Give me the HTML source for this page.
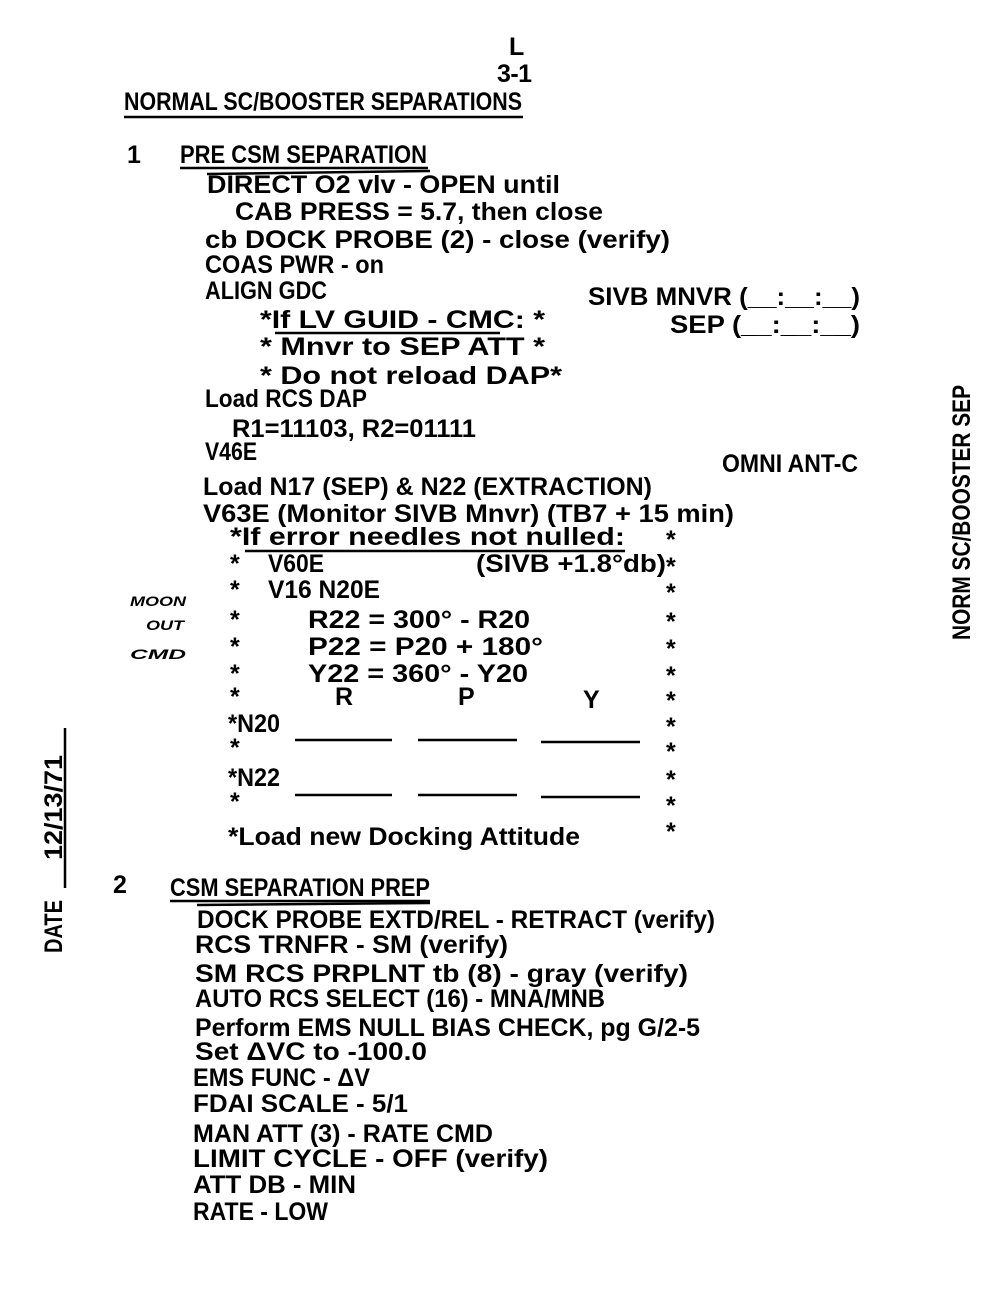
<!DOCTYPE html>
<html><head><meta charset="utf-8"><style>
html,body{margin:0;padding:0;background:#fff;width:1000px;height:1300px;overflow:hidden}
svg text{font-family:"Liberation Sans",sans-serif;font-weight:bold;fill:#000;font-size:25px}
</style></head><body>
<svg width="1000" height="1300" viewBox="0 0 1000 1300" xmlns="http://www.w3.org/2000/svg">
<g lengthAdjust="spacingAndGlyphs">
<text x="509" y="55" textLength="13">L</text>
<text x="497" y="82" textLength="35">3-1</text>
<text x="124" y="110" textLength="398" lengthAdjust="spacingAndGlyphs">NORMAL SC/BOOSTER SEPARATIONS</text>
<text x="127" y="163">1</text>
<text x="180" y="163" textLength="247" lengthAdjust="spacingAndGlyphs">PRE CSM SEPARATION</text>
<text x="207" y="193" textLength="353" lengthAdjust="spacingAndGlyphs">DIRECT O2 vlv - OPEN until</text>
<text x="235" y="220" textLength="368" lengthAdjust="spacingAndGlyphs">CAB PRESS = 5.7, then close</text>
<text x="205" y="248" textLength="465" lengthAdjust="spacingAndGlyphs">cb DOCK PROBE (2) - close (verify)</text>
<text x="205" y="273" textLength="179" lengthAdjust="spacingAndGlyphs">COAS PWR - on</text>
<text x="205" y="299" textLength="122" lengthAdjust="spacingAndGlyphs">ALIGN GDC</text>
<text x="588" y="305" textLength="272" lengthAdjust="spacingAndGlyphs">SIVB MNVR (__:__:__)</text>
<text x="260" y="328" textLength="285" lengthAdjust="spacingAndGlyphs">*If LV GUID - CMC:   *</text>
<text x="670" y="333" textLength="190" lengthAdjust="spacingAndGlyphs">SEP (__:__:__)</text>
<text x="260" y="355" textLength="285" lengthAdjust="spacingAndGlyphs">*  Mnvr to SEP ATT   *</text>
<text x="260" y="384" textLength="302" lengthAdjust="spacingAndGlyphs">*  Do not reload DAP*</text>
<text x="205" y="407" textLength="162" lengthAdjust="spacingAndGlyphs">Load RCS DAP</text>
<text x="232" y="437" textLength="244" lengthAdjust="spacingAndGlyphs">R1=11103, R2=01111</text>
<text x="205" y="460" textLength="52" lengthAdjust="spacingAndGlyphs">V46E</text>
<text x="722" y="472" textLength="136" lengthAdjust="spacingAndGlyphs">OMNI ANT-C</text>
<text x="203" y="495" textLength="449" lengthAdjust="spacingAndGlyphs">Load N17 (SEP) &amp; N22 (EXTRACTION)</text>
<text x="203" y="522" textLength="531" lengthAdjust="spacingAndGlyphs">V63E (Monitor SIVB Mnvr) (TB7 + 15 min)</text>
<text x="230" y="545" textLength="395" lengthAdjust="spacingAndGlyphs">*If error needles not nulled:</text>
<text x="230" y="572" textLength="40">*</text>
<text x="268" y="572" textLength="56" lengthAdjust="spacingAndGlyphs">V60E</text>
<text x="476" y="572" textLength="190" lengthAdjust="spacingAndGlyphs">(SIVB +1.8°db)</text>
<text x="230" y="598">*</text>
<text x="268" y="598" textLength="112" lengthAdjust="spacingAndGlyphs">V16 N20E</text>
<text x="230" y="628">*</text>
<text x="308" y="628" textLength="222" lengthAdjust="spacingAndGlyphs">R22 = 300° - R20</text>
<text x="230" y="655">*</text>
<text x="308" y="655" textLength="235" lengthAdjust="spacingAndGlyphs">P22 = P20  + 180°</text>
<text x="230" y="682">*</text>
<text x="308" y="682" textLength="220" lengthAdjust="spacingAndGlyphs">Y22 = 360° - Y20</text>
<text x="230" y="705">*</text>
<text x="335" y="705">R</text><text x="458" y="705">P</text><text x="583" y="708">Y</text>
<text x="228" y="732" textLength="52" lengthAdjust="spacingAndGlyphs">*N20</text>
<text x="230" y="756">*</text>
<text x="228" y="786" textLength="52" lengthAdjust="spacingAndGlyphs">*N22</text>
<text x="230" y="810">*</text>
<text x="228" y="845" textLength="352" lengthAdjust="spacingAndGlyphs">*Load new Docking Attitude</text>
<g>
<text x="666" y="548">*</text><text x="666" y="575">*</text><text x="666" y="601">*</text><text x="666" y="630">*</text>
<text x="666" y="657">*</text><text x="666" y="684">*</text><text x="666" y="709">*</text><text x="666" y="735">*</text>
<text x="666" y="760">*</text><text x="666" y="788">*</text><text x="666" y="814">*</text><text x="666" y="840">*</text>
</g>
<text x="113" y="893">2</text>
<text x="170" y="896" textLength="260" lengthAdjust="spacingAndGlyphs">CSM SEPARATION PREP</text>
<text x="197" y="928" textLength="518" lengthAdjust="spacingAndGlyphs">DOCK PROBE EXTD/REL - RETRACT (verify)</text>
<text x="195" y="953" textLength="313" lengthAdjust="spacingAndGlyphs">RCS TRNFR - SM (verify)</text>
<text x="195" y="982" textLength="493" lengthAdjust="spacingAndGlyphs">SM RCS PRPLNT tb (8) - gray (verify)</text>
<text x="195" y="1007" textLength="410" lengthAdjust="spacingAndGlyphs">AUTO RCS SELECT (16) - MNA/MNB</text>
<text x="195" y="1036" textLength="505" lengthAdjust="spacingAndGlyphs">Perform EMS NULL BIAS CHECK, pg G/2-5</text>
<text x="195" y="1060" textLength="232" lengthAdjust="spacingAndGlyphs">Set ΔVC to -100.0</text>
<text x="193" y="1086" textLength="177" lengthAdjust="spacingAndGlyphs">EMS FUNC - ΔV</text>
<text x="193" y="1112" textLength="215" lengthAdjust="spacingAndGlyphs">FDAI SCALE - 5/1</text>
<text x="193" y="1142" textLength="300" lengthAdjust="spacingAndGlyphs">MAN ATT (3) - RATE CMD</text>
<text x="193" y="1167" textLength="355" lengthAdjust="spacingAndGlyphs">LIMIT CYCLE - OFF (verify)</text>
<text x="193" y="1193" textLength="163" lengthAdjust="spacingAndGlyphs">ATT DB - MIN</text>
<text x="193" y="1220" textLength="135" lengthAdjust="spacingAndGlyphs">RATE - LOW</text>
<text transform="translate(970,640) rotate(-90)" textLength="255" lengthAdjust="spacingAndGlyphs">NORM SC/BOOSTER SEP</text>
<text transform="translate(62,953) rotate(-90)" textLength="53" lengthAdjust="spacingAndGlyphs">DATE</text>
<text transform="translate(62,860) rotate(-90)" textLength="105" lengthAdjust="spacingAndGlyphs">12/13/71</text>
<text x="130" y="606" style="font-size:14px;font-style:italic" textLength="56" lengthAdjust="spacingAndGlyphs">MOON</text>
<text x="146" y="630" style="font-size:14px;font-style:italic" textLength="38" lengthAdjust="spacingAndGlyphs">OUT</text>
<text x="130" y="659" style="font-size:14px;font-style:italic" textLength="56" lengthAdjust="spacingAndGlyphs">CMD</text>
</g>
<g stroke="#000" stroke-width="2.5" fill="none">
<line x1="124" y1="117" x2="523" y2="117"/>
<line x1="180" y1="168" x2="428" y2="168"/>
<line x1="207" y1="174" x2="430" y2="171"/>
<line x1="275" y1="333" x2="500" y2="333"/>
<line x1="245" y1="551" x2="625" y2="551"/>
<line x1="295" y1="740" x2="392" y2="740"/><line x1="418" y1="740" x2="517" y2="740"/><line x1="541" y1="742" x2="640" y2="742"/>
<line x1="295" y1="795" x2="392" y2="795"/><line x1="418" y1="795" x2="517" y2="795"/><line x1="541" y1="797" x2="640" y2="797"/>
<line x1="170" y1="901" x2="430" y2="901"/>
<line x1="197" y1="905" x2="430" y2="903"/>
<line x1="65" y1="728" x2="65" y2="888"/>
</g>
</svg>
</body></html>
